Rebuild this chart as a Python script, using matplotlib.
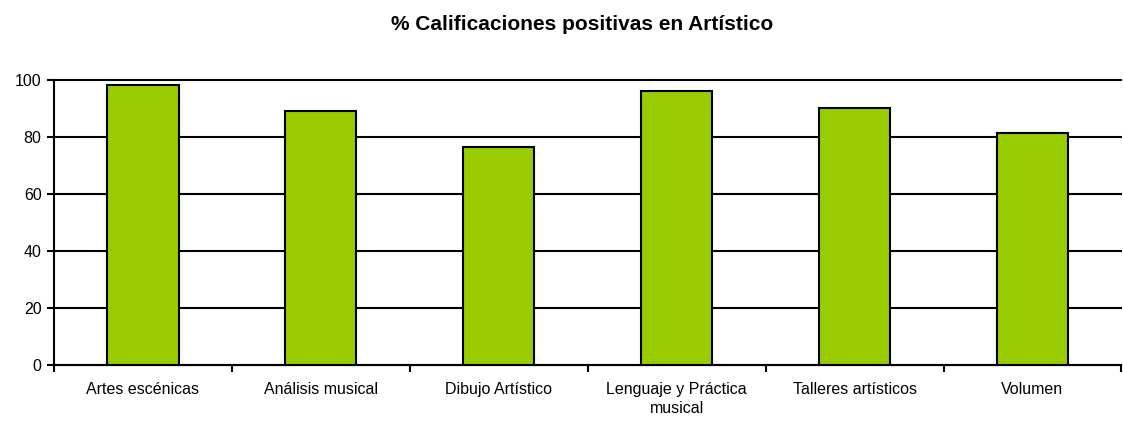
import matplotlib.pyplot as plt
import numpy as np

plt.rcParams['font.family'] = ['Liberation Sans', 'DejaVu Sans']

# Categories and values
categorias = ['Artes escénicas', 'Análisis musical', 'Dibujo Artístico',
              'Lenguaje y Práctica\nmusical', 'Talleres artísticos', 'Volumen']
porcentajes = [98, 89, 76.5, 96, 90, 81.5]

fig = plt.figure(figsize=(11.23, 4.22), dpi=100)
ax = fig.add_axes([0.0481, 0.135, 0.9505, 0.676])

x = np.arange(len(categorias))
ax.bar(x, porcentajes, width=0.4, color='#99CC00', edgecolor='black', linewidth=1.5, zorder=3)

# Horizontal grid lines
ax.set_ylim(0, 100)
ax.set_yticks(range(0, 101, 20))
ax.yaxis.grid(True, color='black', linewidth=1.5, zorder=0)
for line in ax.get_ygridlines():
    line.set_clip_on(False)  # keep the top line at full width

ax.set_xlim(-0.5, len(categorias) - 0.5)
ax.set_xticks(np.arange(-0.5, len(categorias), 1))
ax.set_xticklabels([])
ax.set_xticks(x, minor=True)
ax.set_xticklabels(categorias, minor=True, fontsize=11.5, linespacing=1.4)
ax.tick_params(axis='x', which='minor', length=0, pad=12)
ax.tick_params(axis='x', which='major', length=5, width=1.5)
ax.tick_params(axis='y', length=5, width=1.5, labelsize=11.5, pad=4)

for side in ['top', 'right']:
    ax.spines[side].set_visible(False)
ax.spines['left'].set_linewidth(1.5)
ax.spines['bottom'].set_linewidth(1.5)

fig.suptitle('% Calificaciones positivas en Artístico', fontsize=15, fontweight='bold', x=0.518, y=0.965)

plt.savefig('out.png', dpi=100)
